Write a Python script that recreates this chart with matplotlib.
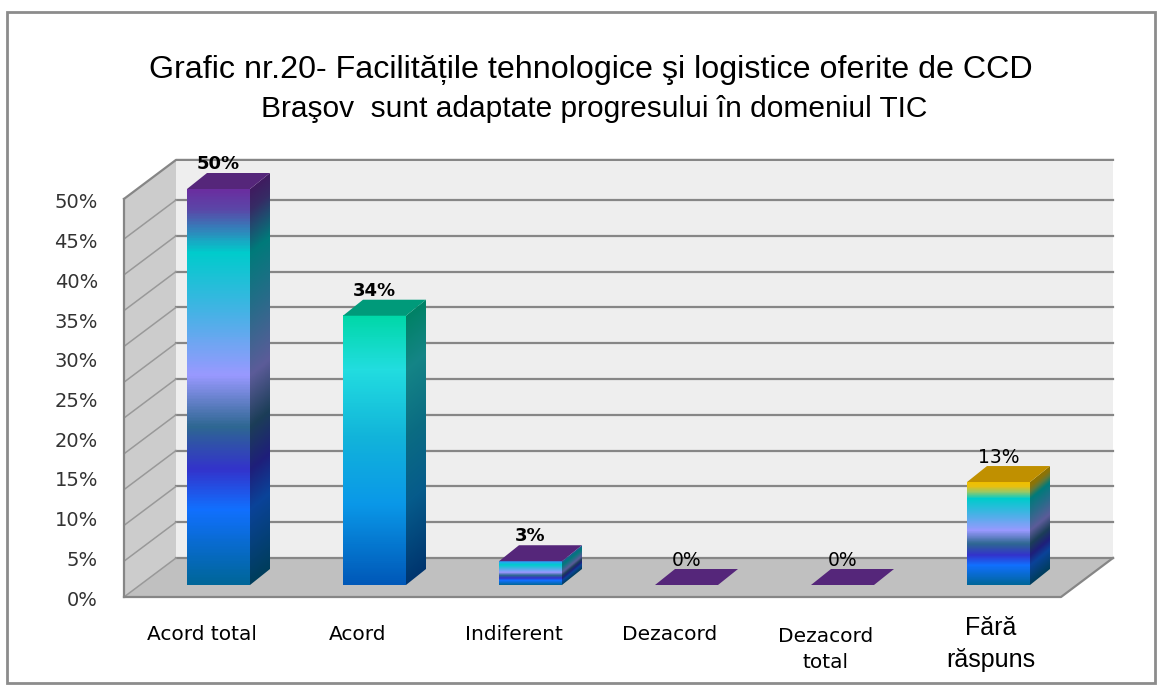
import numpy as np
import matplotlib.pyplot as plt
from matplotlib.colors import LinearSegmentedColormap
from matplotlib.patches import Polygon, Rectangle

# data
categories = ['Acord total', 'Acord', 'Indiferent', 'Dezacord', 'Dezacord\ntotal', 'Fără\nrăspuns']
values = [50, 34, 3, 0, 0, 13]
value_labels = ['50%', '34%', '3%', '0%', '0%', '13%']
y_ticks = [0, 5, 10, 15, 20, 25, 30, 35, 40, 45, 50]
y_tick_labels = ['0%', '5%', '10%', '15%', '20%', '25%', '30%', '35%', '40%', '45%', '50%']
title_lines = ['Grafic nr.20- Facilitățile tehnologice şi logistice oferite de CCD',
               'Braşov  sunt adaptate progresului în domeniul TIC']

# bar fills (excel style gradients)
peacock = [(0.0, '#3399ff'), (0.16, '#00cccc'), (0.30, '#40b4e4'), (0.47, '#9999ff'),
           (0.60, '#2e6792'), (0.71, '#3333cc'), (0.81, '#1170ff'), (1.0, '#006699')]
front_grads = [
    [(0.0, '#6a2ea0'), (0.05, '#5a48a8'), (0.09, '#3a78b8')] + peacock[1:],
    [(0.0, '#00d8a8'), (0.2, '#22dde0'), (0.45, '#12b4da'), (0.7, '#0a98e8'), (1.0, '#0058b8')],
    peacock,
    peacock,
    peacock,
    [(0.0, '#f0c000'), (0.04, '#e8c010'), (0.09, '#a0c860')] + peacock[1:],
]
top_colors = ['#55267a', '#009a7a', '#55267a', '#55267a', '#55267a', '#c09000']
label_weights = ['bold', 'bold', 'bold', 'normal', 'normal', 'normal']

# pixel scale of the drawing plane
PX, PY = 156.0, 7.92
X0, Y0 = 218.5, 585.0

fig = plt.figure(figsize=(11.62, 6.90), dpi=100)
ax = fig.add_axes([0, 0, 1, 1])
ax.axis('off')

# walls / floor
DX, DY = 52 / PX, 39 / PY
shrink = 7.16 / 7.92
top_v = 55.6


def front_y(v):
    return -12 / PY + shrink * v


def back_y(v):
    return front_y(v) + DY


xl = (124 - X0) / PX
xr = (1113 - X0) / PX
grid_c = '#868686'

ax.add_patch(Rectangle((xl + DX, back_y(0)), xr - xl - DX, back_y(top_v) - back_y(0),
                       fc='#eeeeee', ec='none', zorder=0))
ax.add_patch(Polygon([(xl, front_y(0)), (xl, front_y(top_v)), (xl + DX, back_y(top_v)),
                      (xl + DX, back_y(0))], closed=True, fc='#cccccc', ec='none', zorder=0))
ax.add_patch(Polygon([(xl, front_y(0)), (xl + DX, back_y(0)), (xr, back_y(0)),
                      (xr - DX, front_y(0))], closed=True, fc='#c0c0c0', ec='none', zorder=0))
for v in y_ticks:
    ax.plot([xl + DX, xr], [back_y(v), back_y(v)], color=grid_c, lw=1.6, zorder=1)
    ax.plot([xl, xl + DX], [front_y(v), back_y(v)], color='#999999', lw=1.1, zorder=1)
ax.plot([xl, xl + DX, xr], [front_y(top_v), back_y(top_v), back_y(top_v)], color=grid_c, lw=1.6, zorder=1)
ax.plot([xl, xl], [front_y(0), front_y(top_v)], color=grid_c, lw=1.6, zorder=1)
ax.plot([xl, xr - DX, xr], [front_y(0), front_y(0), back_y(0)], color=grid_c, lw=1.6, zorder=1)

# bars
BW = 63 / PX
BDX, BDY = 20 / PX, 16 / PY
for i, (val, stops) in enumerate(zip(values, front_grads)):
    cmap = LinearSegmentedColormap.from_list('g%d' % i, stops)
    x0, x1 = i - BW / 2, i + BW / 2
    if val > 0:
        t = np.linspace(0, 1, 400)[:, None]
        ax.imshow(cmap(t), extent=[x0, x1, 0, val], aspect='auto',
                  interpolation='nearest', zorder=3)
        # side face, shaded and sheared
        ny, nx = 400, 30
        ys = np.linspace(val + BDY, 0, ny)[:, None]
        us = np.linspace(0, 1, nx)[None, :]
        tt = np.clip((val - (ys - us * BDY)) / val, 0, 1)
        img = cmap(tt)
        img[..., :3] *= 0.6
        side = Polygon([(x1, 0), (x1 + BDX, BDY), (x1 + BDX, val + BDY), (x1, val)],
                       closed=True, transform=ax.transData)
        im = ax.imshow(img, extent=[x1, x1 + BDX, 0, val + BDY], aspect='auto',
                       interpolation='bilinear', zorder=3)
        im.set_clip_path(side)
    ax.add_patch(Polygon([(x0, val), (x1, val), (x1 + BDX, val + BDY), (x0 + BDX, val + BDY)],
                         closed=True, fc=top_colors[i], ec='none', zorder=4))
    ax.text(i, val + 25 / PY, value_labels[i], ha='center', va='center',
            fontsize=13 if label_weights[i] == 'bold' else 13.5,
            fontweight=label_weights[i], color='black', zorder=10)

# axis labels
for v, lab in zip(y_ticks, y_tick_labels):
    ax.text((98 - X0) / PX, (-15 + 7.94 * v) / PY, lab, ha='right', va='center',
            fontsize=14, color='#333333')

for i, lab in enumerate(categories):
    base = 640 + 28 * lab.count('\n')  # baseline of the last line, px
    if i == len(categories) - 1:
        ax.text(i - 8 / PX, (Y0 - base + 1) / PY, lab, ha='center', va='baseline',
                fontsize=18, family='Liberation Sans', color='black', linespacing=1.4)
    else:
        ax.text(i - 17 / PX, (Y0 - base) / PY, lab, ha='center', va='baseline',
                fontsize=14.5, color='black', linespacing=1.5)

fig.text(591 / 1162, 1 - 78 / 690, title_lines[0], ha='center', va='baseline',
         fontsize=23.2, family='Liberation Sans', color='black')
fig.text(594 / 1162, 1 - 117 / 690, title_lines[1], ha='center', va='baseline',
         fontsize=21.5, family='Liberation Sans', color='black')

# outer frame
fig.patches.append(Rectangle((7 / 1162, 1 - 683 / 690), 1148 / 1162, 671 / 690,
                             transform=fig.transFigure, fill=False, ec='#8c8c8c', lw=2))

ax.set_xlim(-X0 / PX, (1162 - X0) / PX)
ax.set_ylim((Y0 - 690) / PY, Y0 / PY)

fig.savefig('out.png', dpi=100)
